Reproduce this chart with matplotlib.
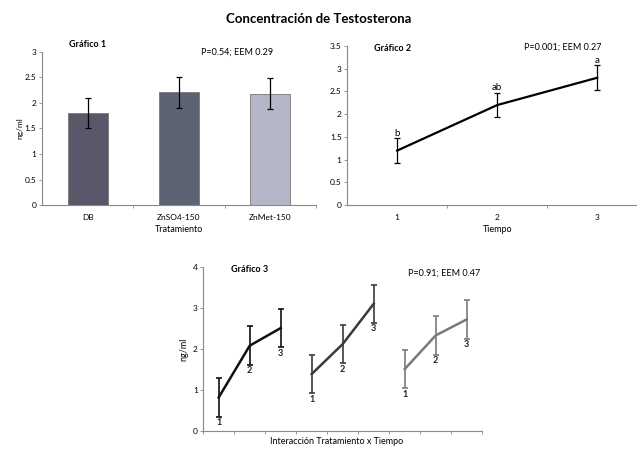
import numpy as np
import matplotlib.pyplot as plt

plt.rcParams['font.family'] = ['Lato', 'DejaVu Sans']

# Gráfico 1: tratamiento
tratamientos = ['DB', 'ZnSO4-150', 'ZnMet-150']
media_trat = [1.80, 2.21, 2.18]
eem_trat = 0.30

# Gráfico 2: tiempo
tiempos = ['1', '2', '3']
media_tiempo = [1.20, 2.20, 2.80]
eem_tiempo = 0.27
letras = ['b', 'ab', 'a']

# Gráfico 3: interacción (3 tratamientos x 3 tiempos)
media_inter = [[0.82, 2.08, 2.51],
               [1.39, 2.12, 3.10],
               [1.51, 2.33, 2.72]]
eem_inter = 0.47

fig = plt.figure(figsize=(6.37, 4.5), dpi=100)
fig.text(0.5, 0.958, 'Concentración de Testosterona', ha='center', va='center',
         fontsize=9.5, fontweight='bold')

def estilo(ax):
    for s in ['top', 'right']:
        ax.spines[s].set_visible(False)
    for s in ['left', 'bottom']:
        ax.spines[s].set_color('#888888')
        ax.spines[s].set_linewidth(0.8)
    ax.tick_params(axis='y', labelsize=6, length=2, width=0.6, color='#888888', pad=2)
    ax.tick_params(axis='x', which='major', labelsize=6, length=0, pad=6)
    ax.tick_params(axis='x', which='minor', length=2.5, width=0.6, color='#888888')

# Gráfico 1
ax1 = fig.add_axes([0.066, 0.544, 0.43, 0.341])
x1 = np.arange(len(tratamientos))
ax1.bar(x1, media_trat, width=0.44, color=['#58586a', '#5c6474', '#b4b6c8'],
        edgecolor='#777777', linewidth=0.6)
ax1.errorbar(x1, media_trat, yerr=eem_trat, fmt='none', ecolor='black',
             elinewidth=0.9, capsize=2, capthick=0.9)
ax1.set_xlim(-0.5, 2.5)
ax1.set_ylim(0, 3)
ax1.set_yticks(np.arange(0, 3.01, 0.5))
ax1.set_yticklabels(['0', '0.5', '1', '1.5', '2', '2.5', '3'])
ax1.set_xticks(x1)
ax1.set_xticklabels(tratamientos)
ax1.set_xticks([0.5, 1.5, 2.5], minor=True)
ax1.set_xlabel('Tratamiento', fontsize=6.5, labelpad=3)
ax1.set_ylabel('ng/ml', fontsize=6, labelpad=1)
estilo(ax1)
ax1.text(0.1, 1.03, 'Gráfico 1', transform=ax1.transAxes, fontsize=6.5, fontweight='bold')
ax1.text(0.58, 1.0, 'P=0.54; EEM 0.29', transform=ax1.transAxes, fontsize=6.5,
         va='center')

# Gráfico 2
ax2 = fig.add_axes([0.545, 0.544, 0.471, 0.354])
x2 = np.arange(1, len(tiempos) + 1)
ax2.errorbar(x2, media_tiempo, yerr=eem_tiempo, color='black', linewidth=1.6,
             elinewidth=0.9, capsize=2, capthick=0.9)
for xi, yi, l in zip(x2, media_tiempo, letras):
    ax2.annotate(l, (xi, yi + eem_tiempo), xytext=(0, 0.5), textcoords='offset points',
                 ha='center', va='bottom', fontsize=7)
ax2.set_xlim(0.5, 3.5)
ax2.set_ylim(0, 3.5)
ax2.set_yticks(np.arange(0, 3.51, 0.5))
ax2.set_yticklabels(['0', '0.5', '1', '1.5', '2', '2.5', '3', '3.5'])
ax2.set_xticks(x2)
ax2.set_xticklabels(tiempos)
ax2.set_xticks([1.5, 2.5, 3.5], minor=True)
ax2.set_xlabel('Tiempo', fontsize=6.5, labelpad=3)
estilo(ax2)
ax2.text(0.09, 0.97, 'Gráfico 2', transform=ax2.transAxes, fontsize=6.5, fontweight='bold')
ax2.text(0.59, 0.99, 'P=0.001; EEM 0.27', transform=ax2.transAxes, fontsize=6.5,
         va='center')

# Gráfico 3
ax3 = fig.add_axes([0.319, 0.042, 0.438, 0.365])
colores = ['#111111', '#3a3a3a', '#7a7a7a']
for g, (medias, c) in enumerate(zip(media_inter, colores)):
    xg = np.arange(3) + 3 * g
    ax3.errorbar(xg, medias, yerr=eem_inter, color=c, linewidth=1.8,
                 elinewidth=1.2, capsize=2.5, capthick=1.2)
    for k, (xi, yi) in enumerate(zip(xg, medias)):
        ax3.annotate(str(k + 1), (xi, yi - eem_inter), xytext=(0, -1),
                     textcoords='offset points', ha='center', va='top',
                     fontsize=6.5, fontweight='bold', color='#222222')
ax3.set_xlim(-0.5, 8.5)
ax3.set_ylim(0, 4)
ax3.set_yticks([0, 1, 2, 3, 4])
ax3.set_xticks(np.arange(9))
ax3.set_xticklabels([])
ax3.set_xticks(np.arange(-0.5, 8.6, 1), minor=True)
ax3.set_ylabel('ng/ml', fontsize=6.5, labelpad=3)
estilo(ax3)
fig.text(0.529, 0.008, 'Interacción Tratamiento x Tiempo', ha='center', va='bottom',
         fontsize=6.5)
ax3.text(0.1, 0.97, 'Gráfico 3', transform=ax3.transAxes, fontsize=6.5, fontweight='bold')
ax3.text(0.735, 0.96, 'P=0.91; EEM 0.47', transform=ax3.transAxes, fontsize=6.5,
         va='center')

fig.savefig('out.png', dpi=100)
